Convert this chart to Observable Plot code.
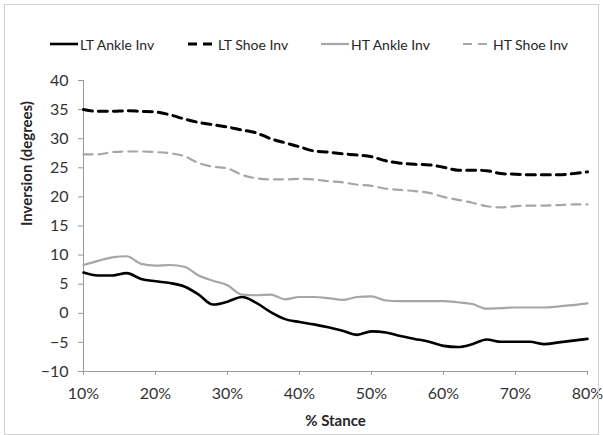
<!DOCTYPE html>
<html><head><meta charset="utf-8">
<script src="https://cdn.jsdelivr.net/npm/d3@7"></script>
<script src="https://cdn.jsdelivr.net/npm/@observablehq/plot@0.6"></script>
<style>
body{margin:0;background:#fff;font-family:Lato,"Open Sans",sans-serif;color:#262626;}
#wrap{position:relative;width:603px;height:435px;overflow:hidden;}
#legend{position:relative;height:62px;}
.item{position:absolute;top:35px;height:18px;font-size:14px;display:flex;align-items:center;white-space:nowrap;}
.item svg{margin-right:2px;}
#border{position:absolute;left:4px;top:4px;width:595px;height:431px;border:1px solid #d0d0d0;box-sizing:border-box;pointer-events:none;}
</style></head><body>
<div id="wrap"><div id="legend"></div><div id="chart"></div><div id="border"></div></div>
<script>
const stance = [10,12,14,16,18,20,22,24,26,28,30,32,34,36,38,40,42,44,46,48,50,52,54,56,58,60,62,64,66,68,70,72,74,76,78,80];
const ltAnkle = [7.0,6.5,6.5,6.9,5.9,5.5,5.2,4.6,3.2,1.5,2.0,2.8,1.8,0.2,-1.0,-1.5,-1.9,-2.4,-3.0,-3.7,-3.1,-3.3,-3.9,-4.4,-4.9,-5.6,-5.8,-5.3,-4.5,-4.9,-4.9,-4.9,-5.3,-5.0,-4.7,-4.4];
const ltShoe = [35.0,34.7,34.7,34.8,34.7,34.6,34.1,33.4,32.8,32.4,32.0,31.5,31.0,30.0,29.3,28.6,27.9,27.7,27.4,27.2,26.9,26.2,25.8,25.6,25.5,25.1,24.6,24.6,24.5,24.0,23.9,23.8,23.8,23.8,24.0,24.3];
const htAnkle = [8.3,9.0,9.6,9.8,8.5,8.2,8.3,8.0,6.5,5.6,4.8,3.2,3.1,3.2,2.4,2.8,2.8,2.6,2.3,2.8,2.9,2.2,2.1,2.1,2.1,2.1,1.9,1.6,0.8,0.9,1.0,1.0,1.0,1.2,1.4,1.7];
const htShoe = [27.3,27.3,27.7,27.8,27.8,27.7,27.5,27.0,25.8,25.2,24.9,23.8,23.2,23.0,23.0,23.1,23.0,22.7,22.5,22.1,21.9,21.4,21.2,21.0,20.7,20.0,19.5,19.0,18.4,18.2,18.4,18.5,18.5,18.6,18.7,18.7];
const seriesNames = ["LT Ankle Inv","LT Shoe Inv","HT Ankle Inv","HT Shoe Inv"];
const xTicks = [10,20,30,40,50,60,70,80];
const yTicks = [-10,-5,0,5,10,15,20,25,30,35,40];

const seriesValues = [ltAnkle, ltShoe, htAnkle, htShoe];
const styles = [
  {stroke:"#000000", strokeWidth:2.6, dash:null},
  {stroke:"#000000", strokeWidth:3, dash:"9,6"},
  {stroke:"#a6a6a6", strokeWidth:2.2, dash:null},
  {stroke:"#a6a6a6", strokeWidth:2.2, dash:"9,6"}
];
const legendLeft = [50,188,321,463];

// legend
const legend = document.getElementById("legend");
seriesNames.forEach((name, i) => {
  const st = styles[i];
  const div = document.createElement("div");
  div.className = "item";
  div.style.left = legendLeft[i] + "px";
  div.innerHTML = `<svg width="28" height="6"><line x1="0" x2="28" y1="3" y2="3" stroke="${st.stroke}" stroke-width="${st.strokeWidth}" ${st.dash ? `stroke-dasharray="${st.dash}"` : ""}/></svg><span>${name}</span>`;
  legend.appendChild(div);
});

const marks = [
  Plot.ruleX([10], {stroke:"#9a9a9a", strokeWidth:1}),
  Plot.ruleY([-10], {stroke:"#9a9a9a", strokeWidth:1}),
  Plot.axisY({ticks:yTicks, tickSize:5, tickPadding:10, label:null, stroke:"#9a9a9a", fill:"#333", fontSize:16}),
  Plot.axisX({ticks:xTicks, tickFormat:d => d + "%", tickSize:4, tickPadding:12, label:null, stroke:"#9a9a9a", fill:"#333", fontSize:16}),
  Plot.text(["Inversion (degrees)"], {frameAnchor:"left", rotate:-90, dx:-56, fontWeight:"bold", fontSize:15, fill:"#262626"}),
  Plot.text(["% Stance"], {frameAnchor:"bottom", dy:54, fontWeight:"bold", fontSize:15, fill:"#262626"})
];
seriesValues.forEach((vals, i) => {
  const data = stance.map((s, j) => ({stance:s, value:vals[j], series:seriesNames[i]}));
  const st = styles[i];
  marks.push(Plot.line(data, {x:"stance", y:"value", stroke:st.stroke, strokeWidth:st.strokeWidth, strokeDasharray:st.dash, curve:"monotone-x"}));
});

const chart = Plot.plot({
  width:603,
  height:373,
  marginTop:18,
  marginBottom:64,
  marginLeft:83,
  marginRight:16,
  style:{fontFamily:"Lato, 'Open Sans', sans-serif", fontSize:"14px", background:"#fff", color:"#333"},
  x:{domain:[10,80]},
  y:{domain:[-10,40]},
  marks
});
document.getElementById("chart").appendChild(chart);
</script>
</body></html>
